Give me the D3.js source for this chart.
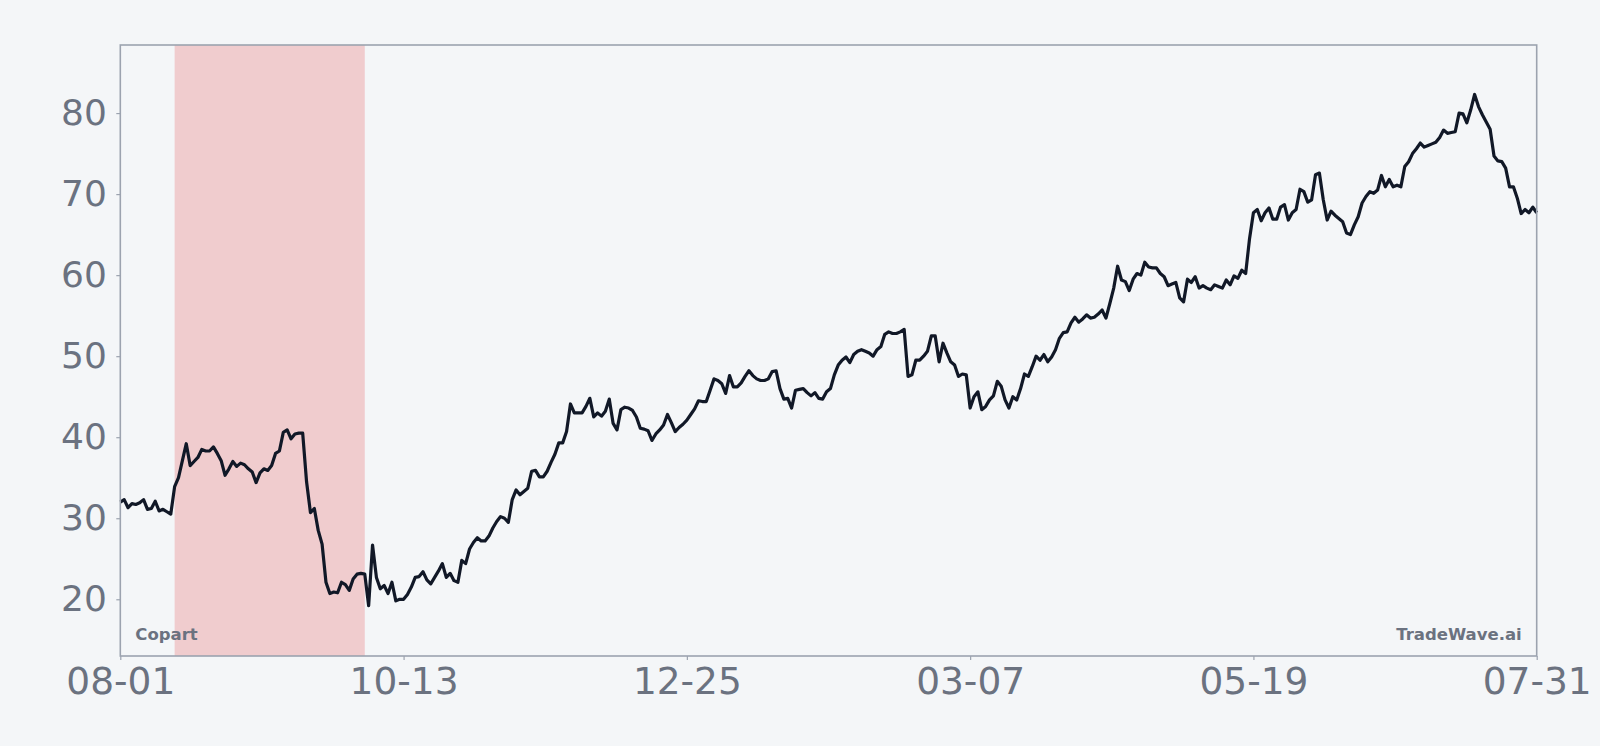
<!DOCTYPE html>
<html>
<head>
<meta charset="utf-8">
<script src="https://cdn.jsdelivr.net/npm/d3@7"></script>
<style>
  html, body { margin: 0; padding: 0; background: #f4f6f8; }
  #line_chart { width: 1600px; height: 746px; }
  .axis text { font-family: "DejaVu Sans", sans-serif; fill: #6b7280; }
  .axis line { stroke: #9ca3af; }
</style>
</head>
<body>
<div id="line_chart"></div>
<script>
// daily closes, 2023-08-01 .. 2024-07-31
var startDay = "2023-08-01";
var endDay = "2024-07-31";
var closePrices = [
  32.0, 32.3, 31.3, 31.8, 31.7, 31.9, 32.3, 31.1, 31.2, 32.1,
  30.9, 31.1, 30.8, 30.5, 33.9, 35.0, 37.1, 39.2, 36.5, 37.0,
  37.5, 38.5, 38.3, 38.3, 38.8, 38.0, 37.1, 35.3, 36.1, 37.0,
  36.4, 36.8, 36.6, 36.1, 35.7, 34.4, 35.6, 36.1, 35.9, 36.5,
  38.0, 38.3, 40.6, 40.9, 39.8, 40.4, 40.5, 40.5, 34.5, 30.7,
  31.2, 28.5, 26.8, 22.1, 20.7, 20.9, 20.8, 22.1, 21.8, 21.1,
  22.5, 23.1, 23.2, 23.1, 19.2, 26.7, 22.7, 21.3, 21.7, 20.7,
  22.1, 19.8, 20.0, 20.0, 20.6, 21.5, 22.7, 22.8, 23.4, 22.4,
  21.9, 22.7, 23.5, 24.4, 22.7, 23.2, 22.3, 22.1, 24.8, 24.4,
  26.2, 27.0, 27.6, 27.2, 27.2, 27.8, 28.8, 29.6, 30.2, 30.0,
  29.5, 32.3, 33.5, 32.9, 33.3, 33.7, 35.8, 35.9, 35.1, 35.1,
  35.8, 36.9, 37.9, 39.3, 39.3, 40.7, 44.1, 43.0, 43.0, 43.0,
  43.8, 44.8, 42.5, 43.0, 42.6, 43.2, 44.7, 41.7, 40.9, 43.4,
  43.7, 43.6, 43.3, 42.5, 41.1, 41.0, 40.8, 39.6, 40.4, 40.9,
  41.5, 42.8, 41.8, 40.7, 41.2, 41.6, 42.1, 42.8, 43.5, 44.5,
  44.4, 44.4, 45.8, 47.2, 47.0, 46.6, 45.4, 47.6, 46.2, 46.2,
  46.7, 47.5, 48.2, 47.6, 47.2, 47.0, 47.0, 47.2, 48.1, 48.2,
  46.0, 44.7, 44.8, 43.6, 45.8, 45.9, 46.0, 45.5, 45.1, 45.5,
  44.8, 44.7, 45.6, 46.0, 47.7, 48.9, 49.5, 49.9, 49.2, 50.2,
  50.6, 50.8, 50.6, 50.4, 50.0, 50.8, 51.2, 52.7, 53.0, 52.8,
  52.8, 53.0, 53.3, 47.5, 47.7, 49.5, 49.5, 50.0, 50.6, 52.5,
  52.5, 49.3, 51.6, 50.4, 49.3, 48.9, 47.5, 47.8, 47.7, 43.6,
  45.0, 45.6, 43.4, 43.8, 44.6, 45.1, 46.9, 46.3, 44.6, 43.6,
  45.0, 44.6, 46.0, 47.8, 47.5, 48.7, 50.0, 49.5, 50.2, 49.3,
  49.9, 50.8, 52.2, 52.9, 53.0, 54.1, 54.8, 54.2, 54.6, 55.1,
  54.7, 54.8, 55.2, 55.7, 54.7, 56.5, 58.4, 61.1, 59.4, 59.2,
  58.1, 59.5, 60.2, 60.0, 61.6, 61.0, 60.9, 60.9, 60.2, 59.8,
  58.7, 58.9, 59.1, 57.2, 56.7, 59.5, 59.1, 59.8, 58.4, 58.7,
  58.4, 58.2, 58.8, 58.6, 58.4, 59.4, 58.8, 59.9, 59.6, 60.6,
  60.2, 64.5, 67.7, 68.1, 66.7, 67.7, 68.3, 66.9, 66.9, 68.4,
  68.7, 66.8, 67.7, 68.1, 70.6, 70.3, 69.0, 69.3, 72.4, 72.6,
  69.3, 66.8, 67.9, 67.4, 67.0, 66.6, 65.2, 65.0, 66.2, 67.2,
  68.9, 69.7, 70.3, 70.1, 70.5, 72.3, 70.9, 71.8, 70.9, 71.1,
  70.9, 73.4, 74.0, 75.0, 75.6, 76.3, 75.8, 76.0, 76.2, 76.4,
  77.0, 77.9, 77.5, 77.6, 77.7, 80.0, 79.9, 78.8, 80.4, 82.3,
  80.8, 79.8, 78.9, 78.0, 74.7, 74.1, 74.0, 73.2, 70.9, 70.9,
  69.5, 67.6, 68.1, 67.7, 68.4, 67.7
];

// highlighted period
var shadeStart = "2023-08-15";
var shadeEnd = "2023-10-03";

var xTickDays = ["2023-08-01", "2023-10-13", "2023-12-25", "2024-03-07", "2024-05-19", "2024-07-31"];
var yTickValues = [20, 30, 40, 50, 60, 70, 80];
var yDomain = [13.0, 88.4];

var leftLabel = "Copart";
var rightLabel = "TradeWave.ai";

var margin = {top: 45, right: 63.3, bottom: 90, left: 120.3},
    width = 1600 - margin.left - margin.right,
    height = 746 - margin.top - margin.bottom;

var parseDay = d3.utcParse("%Y-%m-%d");

var dates = d3.utcDay.range(parseDay(startDay), d3.utcDay.offset(parseDay(endDay), 1));
var data = closePrices.map(function(v, i) { return {date: dates[i], value: v}; });

var svg = d3.select("#line_chart")
    .append("svg")
    .attr("width", 1600)
    .attr("height", 746);

svg.append("rect")
    .attr("width", 1600)
    .attr("height", 746)
    .attr("fill", "#f4f6f8");

var g_body = svg.append("g").attr("transform", "translate(" + margin.left + "," + margin.top + ")");

var x = d3.scaleUtc()
    .domain([parseDay(startDay), parseDay(endDay)])
    .range([0, width]);

var y = d3.scaleLinear()
    .domain(yDomain)
    .range([height, 0]);

// shaded band
g_body.append("rect")
    .attr("x", x(parseDay(shadeStart)))
    .attr("y", 0)
    .attr("width", x(parseDay(shadeEnd)) - x(parseDay(shadeStart)))
    .attr("height", height)
    .attr("fill", "#f0ccce");

// x axis
var xAxis = g_body.append("g")
    .attr("class", "axis x-axis")
    .attr("transform", "translate(0," + height + ")")
    .call(d3.axisBottom(x)
        .tickValues(xTickDays.map(parseDay))
        .tickFormat(d3.utcFormat("%m-%d"))
        .tickSize(4)
        .tickSizeOuter(0)
        .tickPadding(7));
xAxis.select(".domain").remove();
xAxis.selectAll("text").attr("font-size", 37.5);
xAxis.selectAll("line").attr("stroke-width", 1.2);

// y axis
var yAxis = g_body.append("g")
    .attr("class", "axis y-axis")
    .call(d3.axisLeft(y)
        .tickValues(yTickValues)
        .tickSize(4)
        .tickSizeOuter(0)
        .tickPadding(9.5));
yAxis.select(".domain").remove();
yAxis.selectAll("text").attr("font-size", 36);
yAxis.selectAll("line").attr("stroke-width", 1.2);

// price line
var line = d3.line()
    .x(function(d) { return x(d.date); })
    .y(function(d) { return y(d.value); });

g_body.append("path")
    .datum(data)
    .attr("fill", "none")
    .attr("stroke", "#111827")
    .attr("stroke-width", 3.2)
    .attr("stroke-linejoin", "round")
    .attr("d", line);

// frame
g_body.append("rect")
    .attr("width", width)
    .attr("height", height)
    .attr("fill", "none")
    .attr("stroke", "#9ca3af")
    .attr("stroke-width", 1.6);

// corner labels
g_body.append("text")
    .attr("x", 15)
    .attr("y", height - 16)
    .attr("font-family", "DejaVu Sans, sans-serif")
    .attr("font-weight", "bold")
    .attr("font-size", 16.5)
    .attr("fill", "#6b7280")
    .text(leftLabel);

g_body.append("text")
    .attr("x", width - 15)
    .attr("y", height - 16)
    .attr("text-anchor", "end")
    .attr("font-family", "DejaVu Sans, sans-serif")
    .attr("font-weight", "bold")
    .attr("font-size", 16.5)
    .attr("fill", "#6b7280")
    .text(rightLabel);
</script>
</body>
</html>
